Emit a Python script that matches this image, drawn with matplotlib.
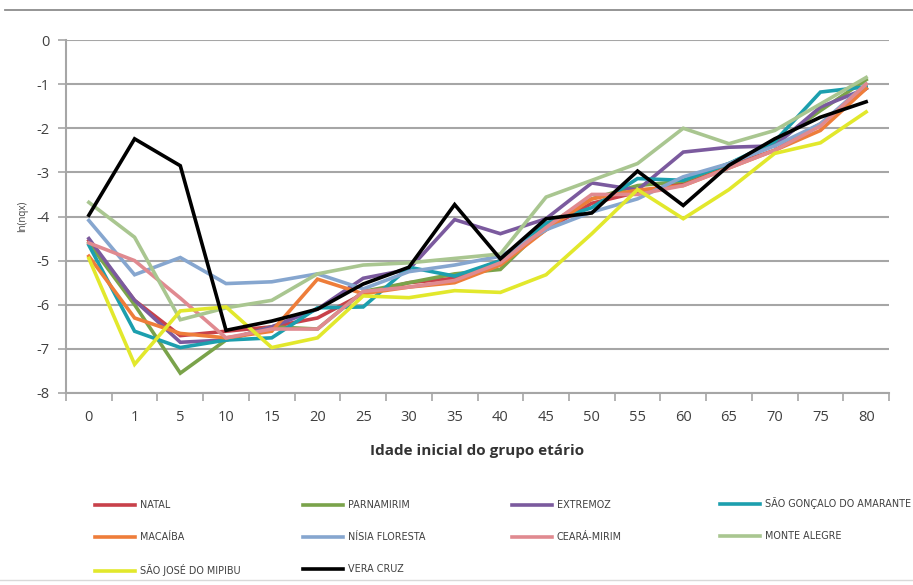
import matplotlib
matplotlib.use("Agg")
import matplotlib.pyplot as plt
from matplotlib.lines import Line2D

ages = ["0", "1", "5", "10", "15", "20", "25", "30", "35", "40", "45", "50", "55", "60", "65", "70", "75", "80"]

natal = [-4.55, -5.9, -6.7, -6.6, -6.5, -6.3, -5.75, -5.5, -5.4, -5.0, -4.3, -3.7, -3.45, -3.25, -2.85, -2.5, -1.9, -1.1]
parnamirim = [-4.6, -6.0, -7.55, -6.8, -6.5, -6.55, -5.7, -5.5, -5.3, -5.2, -4.2, -3.6, -3.3, -3.2, -2.8, -2.35, -1.6, -0.9]
extremoz = [-4.5, -5.9, -6.85, -6.8, -6.5, -6.1, -5.4, -5.2, -4.07, -4.39, -4.05, -3.24, -3.4, -2.54, -2.43, -2.4, -1.52, -1.1]
sao_goncalo = [-4.65, -6.6, -6.97, -6.8, -6.75, -6.07, -6.05, -5.15, -5.35, -5.0, -4.15, -3.8, -3.14, -3.18, -2.8, -2.3, -1.18, -1.06]
macaiba = [-4.9, -6.3, -6.65, -6.75, -6.6, -5.42, -5.75, -5.6, -5.5, -5.1, -4.3, -3.6, -3.4, -3.3, -2.9, -2.5, -2.05, -1.1]
nisia_floresta = [-4.09, -5.32, -4.93, -5.52, -5.48, -5.3, -5.64, -5.25, -5.1, -4.9, -4.3, -3.9, -3.6, -3.1, -2.8, -2.4, -1.9, -1.0]
ceara_mirim = [-4.6, -5.0, -5.85, -6.75, -6.55, -6.55, -5.7, -5.6, -5.45, -5.05, -4.25, -3.5, -3.5, -3.3, -2.9, -2.5, -1.95, -1.0]
monte_alegre = [-3.68, -4.47, -6.34, -6.07, -5.9, -5.3, -5.1, -5.05, -4.95, -4.85, -3.56, -3.18, -2.8, -2.0, -2.35, -2.05, -1.45, -0.85]
sao_jose = [-4.95, -7.35, -6.14, -6.05, -6.97, -6.75, -5.8, -5.84, -5.68, -5.72, -5.32, -4.39, -3.39, -4.05, -3.39, -2.57, -2.33, -1.63]
vera_cruz = [-3.97, -2.24, -2.85, -6.58, -6.37, -6.1, -5.53, -5.15, -3.73, -4.96, -4.05, -3.92, -2.97, -3.75, -2.84, -2.24, -1.75, -1.40]

series = [
    ("NATAL", natal, "#c8414a"),
    ("PARNAMIRIM", parnamirim, "#7aa34a"),
    ("EXTREMOZ", extremoz, "#7b5a9e"),
    ("SÃO GONÇALO DO AMARANTE", sao_goncalo, "#1c9fae"),
    ("MACAÍBA", macaiba, "#ee7d3a"),
    ("NÍSIA FLORESTA", nisia_floresta, "#86a6cf"),
    ("CEARÁ-MIRIM", ceara_mirim, "#e08a90"),
    ("MONTE ALEGRE", monte_alegre, "#a9c690"),
    ("SÃO JOSÉ DO MIPIBU", sao_jose, "#e2e82c"),
    ("VERA CRUZ", vera_cruz, "#000000"),
]

yticks = [0, -1, -2, -3, -4, -5, -6, -7, -8]

fig = plt.figure(figsize=(9.13, 5.85), dpi=100)
ax = fig.add_axes([66/913, 1-393/585, (889-66)/913, (393-40)/585])

x = list(range(len(ages)))
lines = []
for name, vals, col in series:
    ln, = ax.plot(x, vals, color=col, lw=2.6, label=name, solid_joinstyle="miter")
    lines.append(ln)

grid_col = "#a6a6a6"
ax.set_ylim(-8, 0)
ax.set_xlim(-0.5, len(ages) - 0.5)
ax.set_yticks(yticks)
ax.set_yticklabels([str(v) for v in yticks], fontfamily="Open Sans", fontsize=10.5, color="#404040")
ax.set_xticks(x)
ax.set_xticklabels(ages, fontfamily="Open Sans", fontsize=10.5, color="#404040")
ax.set_xticks([i - 0.5 for i in range(len(ages) + 1)], minor=True)
ax.tick_params(axis="x", which="major", length=0, pad=12)
ax.tick_params(axis="x", which="minor", length=6, color=grid_col, width=1.2)
ax.tick_params(axis="y", length=6, color=grid_col, width=1.2, pad=6)
ax.yaxis.grid(True, color=grid_col, lw=1.5)
ax.set_axisbelow(True)
for s in ["top", "right"]:
    ax.spines[s].set_visible(False)
for s in ["left", "bottom"]:
    ax.spines[s].set_color(grid_col)
    ax.spines[s].set_linewidth(1.5)

ax.set_ylabel("ln(nqx)", fontsize=7, fontfamily="Open Sans", color="#404040", labelpad=6)
ax.set_xlabel("Idade inicial do grupo etário", fontsize=11, fontweight="bold",
              fontfamily="Open Sans", color="#333333", labelpad=14)

# legend laid out row-wise in 4 columns, one legend per column
col_x = [95, 303, 512, 720]
col_top = [500, 500, 500, 497]
for c in range(4):
    idx = list(range(c, len(lines), 4))
    leg = fig.legend([lines[i] for i in idx], [series[i][0] for i in idx],
                     loc="upper left", bbox_to_anchor=(col_x[c]/913, 1-col_top[c]/585),
                     frameon=False, borderpad=0, borderaxespad=0,
                     handlelength=4.15, handletextpad=0.5, labelspacing=2.3,
                     prop={"family": "DejaVu Sans", "size": 6.9})
    for t in leg.get_texts():
        t.set_color("#404040")

fig.add_artist(Line2D([5/913, 1.0], [1-10/585, 1-10/585], transform=fig.transFigure, color="#8c8c8c", lw=1.3))
fig.add_artist(Line2D([0.0, 1.0], [1-580/585, 1-580/585], transform=fig.transFigure, color="#d9d9d9", lw=1.0))

fig.savefig("out.png", dpi=100)
